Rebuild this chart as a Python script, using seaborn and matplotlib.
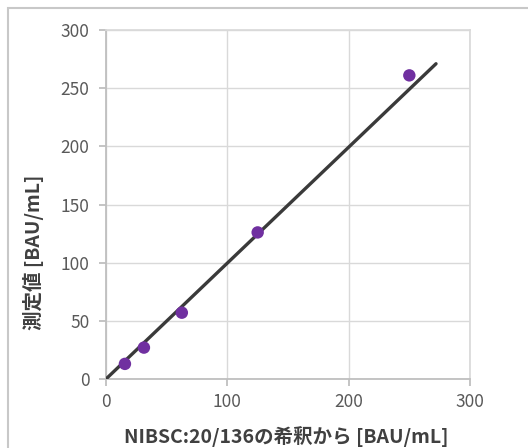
import matplotlib
matplotlib.use("Agg")
import matplotlib.pyplot as plt
import seaborn as sns
import pandas as pd
from matplotlib.patches import Rectangle

# data
expected = [15.6, 31.25, 62.5, 125, 250]
measured = [13, 27, 57, 126, 261]
line_x = [0, 272]
line_y = [0, 271]
x_ticks = [0, 100, 200, 300]
y_ticks = [0, 50, 100, 150, 200, 250, 300]

sns.set_theme(style="white")
plt.rcParams["font.family"] = ["Noto Sans CJK JP", "DejaVu Sans"]

df = pd.DataFrame({"x": expected, "y": measured})

fig = plt.figure(figsize=(5.28, 4.48), dpi=100)
ax = fig.add_axes([106 / 528, 1 - 379 / 448, 364 / 528, 349 / 448])

ax.plot(line_x, line_y, color="#3a3a3a", linewidth=2.4, zorder=3,
        solid_capstyle="round")
sns.scatterplot(data=df, x="x", y="y", ax=ax, color="#7030a0", s=80,
                edgecolor="none", zorder=4)

ax.set_xlim(0, 300)
ax.set_ylim(0, 300)
ax.set_xticks(x_ticks)
ax.set_yticks(y_ticks)
ax.grid(True, color="#d9d9d9", linewidth=1)
ax.set_axisbelow(True)
for side in ["top", "right"]:
    ax.spines[side].set_color("#d9d9d9")
for side in ["left", "bottom"]:
    ax.spines[side].set_color("#bfbfbf")
    ax.spines[side].set_linewidth(1.3)
ax.tick_params(axis="both", colors="#bfbfbf", labelcolor="#595959",
               labelsize=12.5, length=5, width=1.3, left=True, bottom=True)
ax.tick_params(axis="x", pad=5)
ax.tick_params(axis="y", pad=7)

ax.set_xlabel("NIBSC:20/136の希釈から [BAU/mL]", fontsize=14,
              fontweight="bold", color="#404040", va="center")
ax.set_ylabel("測定値 [BAU/mL]", fontsize=14, fontweight="bold",
              color="#404040", va="center")
ax.xaxis.set_label_coords(0.4945, -0.166)
ax.yaxis.set_label_coords(-0.2005, 0.364)

fig.patches.append(Rectangle((8 / 528, -0.01), 1.0, 1 - 8 / 448 + 0.01,
                             transform=fig.transFigure, fill=False,
                             edgecolor="#c8c8c8", linewidth=1.5))

fig.savefig("out.png", dpi=100)
